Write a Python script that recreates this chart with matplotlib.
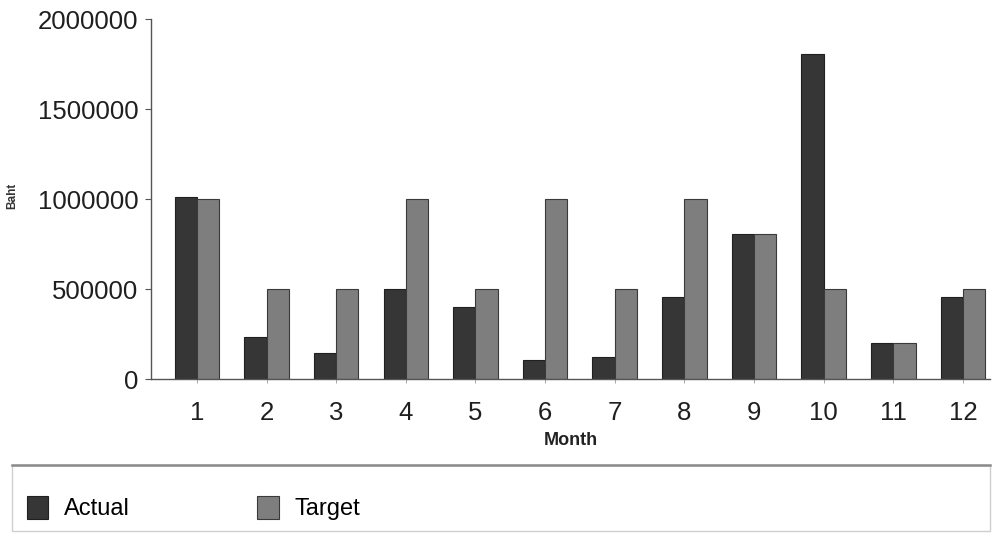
import matplotlib
matplotlib.use("Agg")
import matplotlib.pyplot as plt
from matplotlib.patches import Rectangle
from matplotlib.lines import Line2D
import numpy as np

plt.rcParams['font.family'] = ['Liberation Sans', 'DejaVu Sans']

months = [1, 2, 3, 4, 5, 6, 7, 8, 9, 10, 11, 12]
actual = [1010000, 235000, 145000, 500000, 400000, 105000, 125000, 455000,
          805000, 1805000, 200000, 455000]
target = [1000000, 500000, 500000, 1000000, 500000, 1000000, 500000, 1000000,
          805000, 500000, 200000, 500000]
y_ticks = [0, 500000, 1000000, 1500000, 2000000]

fig = plt.figure(figsize=(9.96, 5.36), dpi=100)
ax = fig.add_axes([0.1516, 0.2929, 0.8424, 0.6716])

x = np.array(months)
w = 0.32
ax.bar(x - w / 2, actual, width=w, color='#363636', edgecolor='#202020',
       linewidth=0.8, label='Actual')
ax.bar(x + w / 2, target, width=w, color='#7e7e7e', edgecolor='#3a3a3a',
       linewidth=0.8, label='Target')

ax.set_xlim(0.34, 12.39)
ax.set_ylim(0, 2000000)
ax.set_yticks(y_ticks)
ax.set_yticklabels([str(v) for v in y_ticks])
ax.set_xticks(months)
ax.set_xticklabels([str(m) for m in months])

for side in ('top', 'right'):
    ax.spines[side].set_visible(False)
for side in ('left', 'bottom'):
    ax.spines[side].set_color('#555555')
    ax.spines[side].set_linewidth(1.0)

ax.tick_params(axis='y', length=4, width=0.8, color='#555555', pad=5,
               labelsize=18.5, labelcolor='#1f1f1f')
ax.tick_params(axis='x', length=3, width=0.6, color='#999999', pad=13,
               labelsize=18.5, labelcolor='#1f1f1f')

ax.set_xlabel('Month', fontsize=13, fontweight='bold', color='#222222',
              labelpad=5)
fig.text(0.012, 0.635, 'Baht', rotation=90, fontsize=8.5, fontweight='bold',
         ha='center', va='center', color='#333333')

# legend box spanning the lower band of the figure
box = Rectangle((12 / 996, 1 - 531 / 536), (990 - 12) / 996, (531 - 465) / 536,
                transform=fig.transFigure, facecolor='none',
                edgecolor='#cfcfcf', linewidth=1.0)
fig.add_artist(box)
fig.add_artist(Line2D([12 / 996, 990 / 996], [1 - 465 / 536, 1 - 465 / 536],
                      transform=fig.transFigure, color='#8a8a8a', linewidth=1.8))

handles, labels = ax.get_legend_handles_labels()
fig.legend(handles, labels, loc='center left',
           bbox_to_anchor=(10 / 996, 1 - 508 / 536), ncol=2, frameon=False,
           fontsize=17, handlelength=0.93, handleheight=1.12,
           handletextpad=0.64, columnspacing=5.4, borderpad=0.2)

fig.savefig('out.png', dpi=100, facecolor='white')
